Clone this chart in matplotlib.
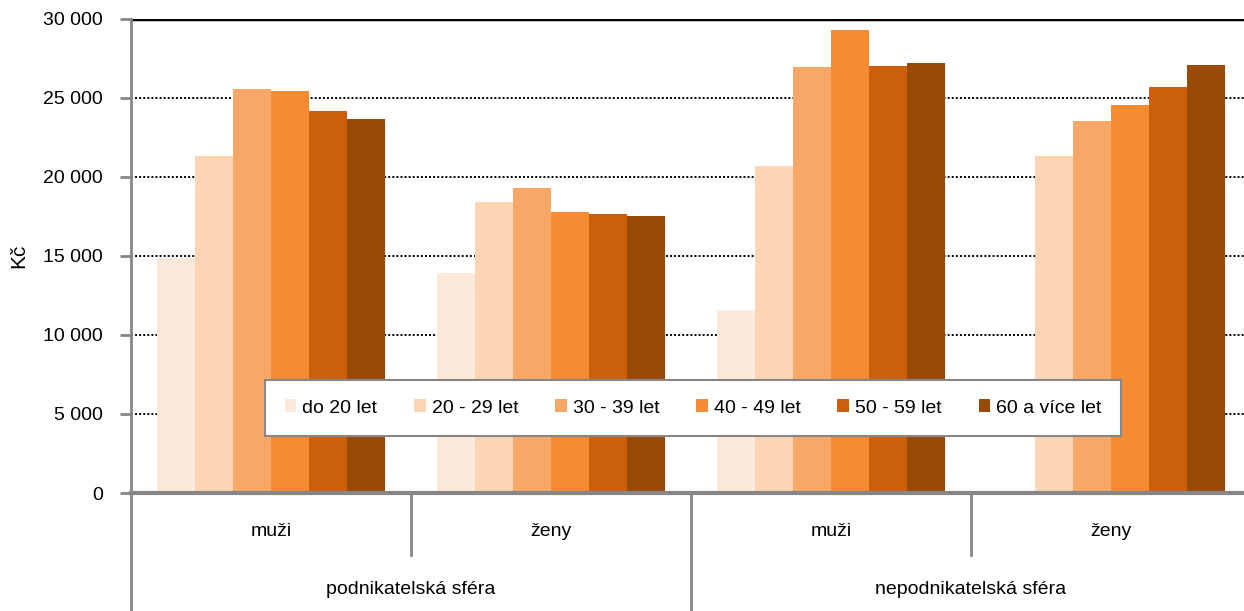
import numpy as np
import matplotlib.pyplot as plt

plt.rcParams['font.family'] = ['Liberation Sans', 'DejaVu Sans']

# ------- Data -------
sectors = ['podnikatelská sféra', 'nepodnikatelská sféra']
sexes = ['muži', 'ženy', 'muži', 'ženy']
ages = ['do 20 let', '20 - 29 let', '30 - 39 let', '40 - 49 let', '50 - 59 let', '60 a více let']
colors = ['#FDE9D9', '#FCD5B5', '#F8A866', '#F68B33', '#CB5F0C', '#9A4A07']

# rows = age group, columns = (sector, sex)
do20 = [14870, 13920, 11580, np.nan]
a20_29 = [21330, 18420, 20700, 21330]
a30_39 = [25570, 19300, 26960, 23540]
a40_49 = [25440, 17780, 29300, 24560]
a50_59 = [24180, 17660, 27030, 25700]
a60 = [23670, 17530, 27220, 27090]
values = [do20, a20_29, a30_39, a40_49, a50_59, a60]

# ------- Figure -------
W, H = 1244, 611
fs = 14
fig = plt.figure(figsize=(W / 100, H / 100), dpi=100)
x0, x1, ytop, ybot = 131, 1251, 19, 493
ax = fig.add_axes([x0 / W, 1 - ybot / H, (x1 - x0) / W, (ybot - ytop) / H])

grey = '#868686'
n = len(ages)
bw = 0.8115 / n
x = np.arange(len(sexes)) + 0.5
for i in range(n):
    ax.bar(x - 0.8115 / 2 + (i + 0.5) * bw, values[i], width=bw, color=colors[i],
           label=ages[i], zorder=2)

ax.set_xlim(0, 4)
ax.set_ylim(0, 30000)
ax.set_yticks(np.arange(0, 30001, 5000))
ax.set_yticklabels([f'{v:,}'.replace(',', ' ') if v else '0' for v in range(0, 30001, 5000)])
for v in range(5000, 30000, 5000):
    ax.axhline(v, color='black', lw=1.4, ls=(0, (1, 1.1)), zorder=1)
ax.axhline(30000, color='black', lw=2.5, zorder=1)

for s in ['top', 'right']:
    ax.spines[s].set_visible(False)
ax.spines['left'].set_color(grey)
ax.spines['left'].set_linewidth(2)
ax.spines['bottom'].set_color(grey)
ax.spines['bottom'].set_linewidth(3)
ax.spines['bottom'].set_zorder(3)
ax.tick_params(axis='y', length=8, width=2, color=grey, labelsize=fs, pad=12)
ax.tick_params(axis='x', length=0, labelbottom=False)
ax.set_ylabel('Kč', fontsize=fs + 1)
ax.yaxis.set_label_coords(-(x0 - 28) / (x1 - x0), 0.5)

# ------- Two-level category axis -------
def fy(py):
    return 1 - py / H
def fx(px):
    return px / W

for k in range(5):
    px = x0 + k * 280
    bottom = H if k % 2 == 0 else 555
    fig.add_artist(plt.Line2D([fx(px), fx(px)], [fy(ybot), fy(bottom)], color=grey, lw=2))
for k, s in enumerate(sexes):
    fig.text(fx(x0 + 140 + k * 280), fy(532), s, ha='center', va='center', fontsize=fs)
for k, s in enumerate(sectors):
    fig.text(fx(x0 + 280 + k * 560), fy(590), s, ha='center', va='center', fontsize=fs)

# ------- Legend -------
leg = ax.legend(loc='center', bbox_to_anchor=((693 - x0) / (x1 - x0), (ybot - 408) / (ybot - ytop)),
                ncol=n, fontsize=fs, frameon=True, fancybox=False, framealpha=1,
                handlelength=0.6, handleheight=0.6, handletextpad=0.3,
                columnspacing=1.9, borderpad=1.0)
leg.get_frame().set_edgecolor(grey)
leg.get_frame().set_linewidth(1.5)
leg.set_zorder(5)

fig.savefig('out.png', dpi=100)
